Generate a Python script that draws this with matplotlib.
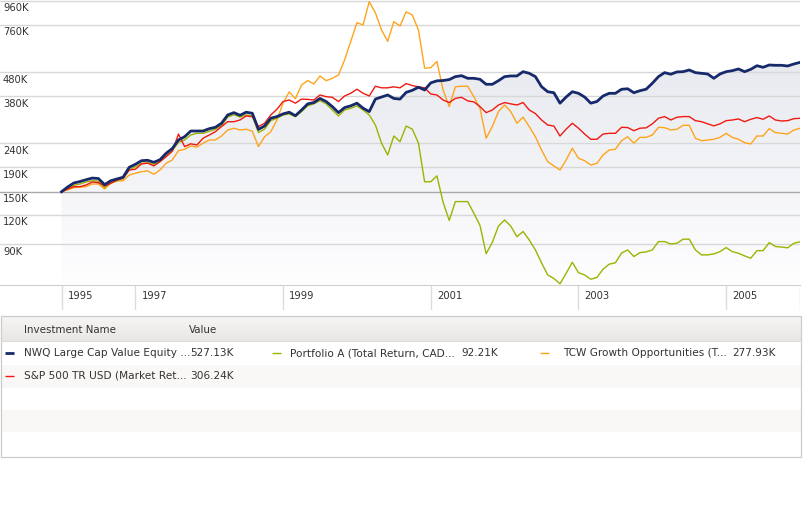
import numpy as np
import matplotlib
matplotlib.use("Agg")
import matplotlib.pyplot as plt
from matplotlib import transforms
from matplotlib.patches import Rectangle

# monthly values (thousands), Dec 1995 .. Dec 2005
nwq = [150.0, 157.1, 163.3, 165.6, 168.6, 171.3, 170.5, 160.6, 166.9, 169.8,
       172.7, 190.2, 195.8, 202.8, 203.6, 199.6, 204.8, 218.0, 228.3, 248.0,
       256.0, 270.6, 270.6, 270.6, 276.8, 280.5, 291.8, 316.2, 323.5, 315.3,
       324.8, 321.6, 274.9, 284.1, 306.3, 311.3, 319.6, 324.8, 314.0, 331.9,
       352.2, 356.8, 371.3, 360.4, 343.1, 323.5, 339.8, 345.6, 354.6, 337.8,
       326.7, 369.1, 376.5, 384.0, 371.3, 369.1, 393.9, 401.8, 414.1, 403.1,
       432.0, 440.6, 441.9, 446.0, 459.0, 463.2, 451.6, 451.6, 447.2, 426.1,
       426.1, 441.2, 459.0, 462.1, 462.1, 481.6, 474.0, 459.0, 416.4, 396.4,
       392.6, 354.6, 376.5, 396.4, 390.3, 376.5, 354.6, 360.4, 380.3, 390.3,
       390.3, 405.9, 408.0, 392.6, 400.4, 406.2, 430.2, 459.0, 477.2, 469.8,
       480.4, 481.6, 489.6, 477.2, 474.0, 470.9, 451.6, 470.9, 481.6, 486.3,
       494.4, 481.6, 492.8, 510.4, 502.5, 513.9, 512.4, 512.4, 508.9, 519.0,
       527.1]

portfolio_a = [150.0, 155.2, 159.7, 161.7, 164.9, 167.0, 166.1, 156.0, 163.8, 167.0,
               170.3, 185.3, 191.3, 197.7, 198.9, 195.8, 200.9, 212.9, 223.5, 242.1,
               248.0, 260.3, 264.6, 264.6, 269.8, 275.2, 284.9, 309.7, 317.1, 309.7,
               316.2, 313.1, 266.4, 275.5, 299.2, 306.3, 316.2, 319.3, 311.0, 326.7,
               345.6, 352.2, 363.5, 352.2, 331.9, 313.1, 331.9, 337.5, 345.6, 331.9,
               316.2, 286.9, 240.5, 214.4, 257.8, 243.9, 284.0, 275.5, 240.5, 165.3,
               165.3, 175.0, 135.4, 113.5, 136.3, 136.3, 136.3, 121.7, 108.1, 82.1,
               91.7, 107.4, 114.0, 107.4, 96.9, 101.9, 93.9, 85.2, 75.2, 66.8,
               64.6, 61.3, 67.9, 75.6, 68.3, 66.8, 64.1, 65.2, 70.7, 74.2,
               75.2, 82.6, 85.2, 79.9, 83.0, 83.6, 85.2, 92.4, 92.4, 90.3,
               90.9, 94.6, 94.6, 85.2, 81.2, 81.2, 82.0, 83.8, 87.2, 83.8,
               82.5, 80.4, 78.6, 84.6, 84.6, 91.5, 88.1, 87.6, 87.0, 90.9,
               92.2]

tcw = [150.0, 152.6, 156.1, 156.7, 157.6, 161.7, 161.7, 154.1, 162.8, 166.4,
       166.9, 176.5, 179.5, 182.3, 183.6, 177.7, 185.3, 197.9, 204.2, 223.5,
       226.6, 234.1, 231.2, 240.5, 248.0, 248.0, 257.8, 273.3, 278.0, 273.3,
       275.2, 270.0, 232.6, 256.0, 268.8, 301.2, 354.6, 395.8, 369.9, 423.2,
       441.9, 427.4, 461.8, 441.2, 451.5, 466.3, 539.5, 646.7, 775.3, 758.1,
       950.7, 853.3, 722.1, 646.7, 782.9, 750.8, 861.6, 835.4, 722.1, 498.0,
       501.0, 532.0, 403.1, 343.1, 415.7, 418.2, 418.2, 377.7, 337.5, 252.2,
       282.6, 326.7, 348.4, 326.7, 291.8, 309.7, 282.6, 256.0, 225.0, 200.9,
       192.7, 185.3, 204.2, 229.0, 207.6, 202.8, 194.5, 197.7, 214.4, 225.0,
       226.6, 246.3, 256.0, 240.5, 254.4, 254.4, 260.3, 280.5, 279.5, 273.3,
       275.2, 286.0, 286.0, 252.2, 246.3, 248.0, 249.7, 254.4, 264.6, 254.4,
       249.7, 241.6, 238.6, 257.8, 257.8, 276.9, 266.4, 264.6, 262.8, 273.3,
       277.9]

sp500 = [150.0, 154.1, 157.6, 157.6, 160.2, 164.9, 163.8, 158.6, 162.8, 168.1,
         171.0, 185.3, 186.6, 196.6, 197.9, 192.7, 200.9, 210.9, 222.2, 262.8,
         232.6, 238.9, 236.2, 252.2, 260.3, 268.8, 282.6, 296.2, 296.2, 301.2,
         313.1, 311.0, 282.6, 291.8, 316.2, 334.2, 360.4, 365.8, 354.6, 369.1,
         368.0, 365.8, 384.0, 377.7, 375.5, 360.4, 380.3, 390.5, 406.2, 390.5,
         380.3, 418.2, 411.7, 411.7, 415.7, 411.7, 429.0, 420.8, 415.7, 411.7,
         387.8, 384.0, 365.8, 356.8, 371.6, 375.5, 362.6, 359.1, 343.1, 323.5,
         331.9, 348.4, 356.8, 352.2, 348.4, 356.8, 331.9, 320.6, 301.2, 286.9,
         284.1, 257.8, 275.5, 291.8, 278.1, 262.8, 249.7, 249.7, 262.8, 264.6,
         264.6, 280.5, 279.8, 271.4, 278.1, 279.0, 290.1, 306.3, 311.3, 301.2,
         309.3, 311.3, 311.3, 299.2, 296.2, 290.1, 284.5, 290.1, 299.2, 301.2,
         304.2, 296.2, 303.3, 308.3, 303.3, 313.2, 301.2, 298.2, 299.2, 305.1,
         306.2]

months = np.arange(len(nwq))

y_ticks = [960, 760, 480, 380, 240, 190, 150, 120, 90]
y_tick_labels = ["960K", "760K", "480K", "380K", "240K", "190K", "150K", "120K", "90K"]
x_tick_months = [0, 12, 36, 60, 84, 108]
x_tick_labels = ["1995", "1997", "1999", "2001", "2003", "2005"]

names = ["NWQ Large Cap Value Equity ...", "Portfolio A (Total Return, CAD...",
         "TCW Growth Opportunities (T...", "S&P 500 TR USD (Market Ret..."]
values = ["527.13K", "92.21K", "277.93K", "306.24K"]

NAVY = "#15296b"
GREEN = "#9db300"
ORANGE = "#ffa41c"
RED = "#f01a12"
TXT = "#333333"

plt.rcParams['font.family'] = ['DejaVu Sans']
W, H = 811, 511
fig = plt.figure(figsize=(W / 100, H / 100), dpi=100)
fig.patch.set_facecolor("white")


def fx(px):
    return px / W


def fy(px):
    return 1 - px / H


# main chart
ax = fig.add_axes([0, fy(285), fx(800), 285 / H])
ax.set_yscale("log")
for s in ax.spines.values():
    s.set_visible(False)
ax.set_xticks([])
ax.set_yticks([])
ax.minorticks_off()
ax.tick_params(which="both", left=False, bottom=False, labelleft=False, labelbottom=False)

for v in y_ticks:
    ax.axhline(v, color="#a9a9a9" if v == 150 else "#d8d8d8", lw=1.0, zorder=1)

ylab_tr = transforms.offset_copy(
    transforms.blended_transform_factory(ax.transAxes, ax.transData),
    fig=fig, x=3, y=-7.5, units="dots")
for v, lab in zip(y_ticks, y_tick_labels):
    ax.text(0, v, lab, transform=ylab_tr, fontsize=7.2, color=TXT,
            ha="left", va="center", zorder=5)

# gradient area under NWQ
poly = ax.fill_between(months, nwq, 1, facecolor="none", edgecolor="none")
grad = np.linspace(0, 1, 256)[:, None]
top = np.array([226, 228, 235]) / 255
bot = np.array([254, 254, 255]) / 255
img = top[None, None, :] * (1 - grad[:, :, None]) + bot[None, None, :] * grad[:, :, None]
im = ax.imshow(img, extent=[0, 1, 0, 1], transform=ax.transAxes,
               aspect="auto", zorder=0.5, interpolation="bilinear")
im.set_clip_path(poly.get_paths()[0], transform=ax.transData)

ax.plot(months, tcw, color=ORANGE, lw=1.0, zorder=3)
ax.plot(months, portfolio_a, color=GREEN, lw=1.0, zorder=3)
ax.plot(months, sp500, color=RED, lw=1.0, zorder=3)
ax.plot(months, nwq, color=NAVY, lw=2.0, zorder=4)

ax.set_xlim(-10, 120)
ax.set_ylim(60.6, 966.5)

# x axis strip
ax2 = fig.add_axes([0, fy(310), fx(800), 25 / H], sharex=ax)
ax2.set_ylim(0, 1)
for k, s in ax2.spines.items():
    s.set_visible(k == "top")
ax2.spines["top"].set_color("#d0d0d0")
ax2.tick_params(which="both", left=False, bottom=False, labelleft=False, labelbottom=False)
ax2.vlines(x_tick_months + [120], 0, 1, color="#dcdcdc", lw=1.0)
xlab_tr = transforms.offset_copy(ax2.transData, fig=fig, x=6, y=0, units="dots")
for m, lab in zip(x_tick_months, x_tick_labels):
    ax2.text(m, 0.56, lab, transform=xlab_tr, fontsize=7.2, color=TXT,
             ha="left", va="center")
ax.set_xlim(-10, 120)

# legend table, drawn in pixel coordinates
tax = fig.add_axes([0, 0, 1, 1])
tax.set_xlim(0, W)
tax.set_ylim(H, 0)
tax.axis("off")
tax.patch.set_alpha(0)

for y0, y1, c in [(342, 365, "white"), (365, 388, "#f9f8f6"), (388, 410, "white"),
                  (410, 432, "#f9f8f6"), (432, 457, "white")]:
    tax.add_patch(Rectangle((1, y0), 799.5, y1 - y0, facecolor=c, edgecolor="none"))
hg = np.linspace(0, 1, 64)[:, None]
htop = np.array([246, 245, 243]) / 255
hbot = np.array([233, 231, 228]) / 255
himg = htop[None, None, :] * (1 - hg[:, :, None]) + hbot[None, None, :] * hg[:, :, None]
tax.imshow(himg, extent=[1, 800.5, 341, 317], aspect="auto", interpolation="bilinear")
tax.set_xlim(0, W)
tax.set_ylim(H, 0)
tax.plot([1, 800.5], [341.5, 341.5], color="#dedcda", lw=0.8)
tax.add_patch(Rectangle((1, 316.5), 799.5, 141, facecolor="none", edgecolor="#cccccc", lw=0.9))

tax.text(24, 330, "Investment Name", fontsize=7.4, color=TXT, va="center")
tax.text(189, 330, "Value", fontsize=7.4, color=TXT, va="center")

entries = [(NAVY, 2.0, 5, 24, 190, 353, 0), (GREEN, 1.0, 272, 290, 461, 353, 1),
           (ORANGE, 1.0, 540, 563, 732, 353, 2), (RED, 1.0, 5, 24, 190, 376, 3)]
for col, lw, lx, nx, vx, yy, i in entries:
    tax.plot([lx, lx + 9], [yy, yy], color=col, lw=lw, solid_capstyle="butt")
    tax.text(nx, yy, names[i], fontsize=7.6, color=TXT, va="center")
    tax.text(vx, yy, values[i], fontsize=7.6, color=TXT, va="center")

fig.savefig("out.png", dpi=100, facecolor="white")
